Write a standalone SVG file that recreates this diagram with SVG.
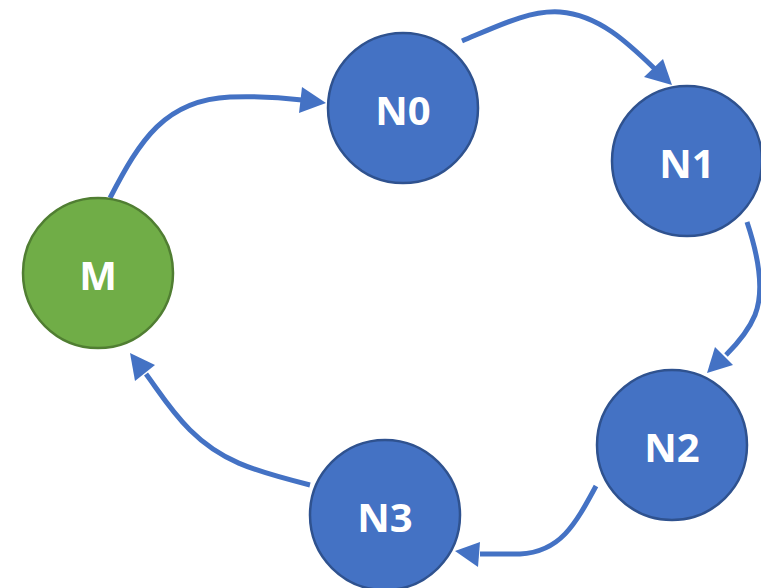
<svg xmlns="http://www.w3.org/2000/svg" width="761" height="588" viewBox="0 0 761 588">
  <defs>
    <style>
      .node-blue { fill: #4472C4; stroke: #2F528F; stroke-width: 2.5; }
      .node-green { fill: #70AD47; stroke: #507E32; stroke-width: 2.5; }
      .label { fill: #FFFFFF; font-family: "Open Sans", "Liberation Sans", sans-serif; font-weight: bold; font-size: 40px; text-anchor: middle; }
      .edge { fill: none; stroke: #4472C4; stroke-width: 5; }
      .head { fill: #4472C4; }
    </style>
  </defs>
  <rect width="761" height="588" fill="#FFFFFF"/>

  <g id="connectors">
    <!-- M to N0 -->
    <path class="edge" d="M110,198 C140,140 165,100 230,97 C260,96 285,98 302,100"/>
    <polygon class="head" points="302,87 299,113 326,103"/>
    <!-- N0 to N1 -->
    <path class="edge" d="M462,41 C500,25 530,10 560,12 C600,15 630,45 656,70"/>
    <polygon class="head" points="663,59 644,77 672,85"/>
    <!-- N1 to N2 -->
    <path class="edge" d="M747,222 C758,255 765,290 755,315 C748,332 737,344 726,355"/>
    <polygon class="head" points="715,347 733,365 707,373"/>
    <!-- N2 to N3 -->
    <path class="edge" d="M596,486 C575,525 560,552 520,554 L480,554"/>
    <polygon class="head" points="480,542 478,567 455,551"/>
    <!-- N3 to M -->
    <path class="edge" d="M310,485 C250,470 220,460 190,430 C170,410 158,390 146,374"/>
    <polygon class="head" points="155,365 135,381 130,353"/>
  </g>

  <g id="M">
    <circle class="node-green" cx="98" cy="273" r="75"/>
    <text class="label" x="98" y="290">M</text>
  </g>
  <g id="N0">
    <circle class="node-blue" cx="403" cy="108" r="75"/>
    <text class="label" x="403" y="125">N0</text>
  </g>
  <g id="N1">
    <circle class="node-blue" cx="687" cy="161" r="75"/>
    <text class="label" x="687" y="178">N1</text>
  </g>
  <g id="N2">
    <circle class="node-blue" cx="672" cy="445" r="75"/>
    <text class="label" x="672" y="462">N2</text>
  </g>
  <g id="N3">
    <circle class="node-blue" cx="385" cy="515" r="75"/>
    <text class="label" x="385" y="532">N3</text>
  </g>
</svg>
